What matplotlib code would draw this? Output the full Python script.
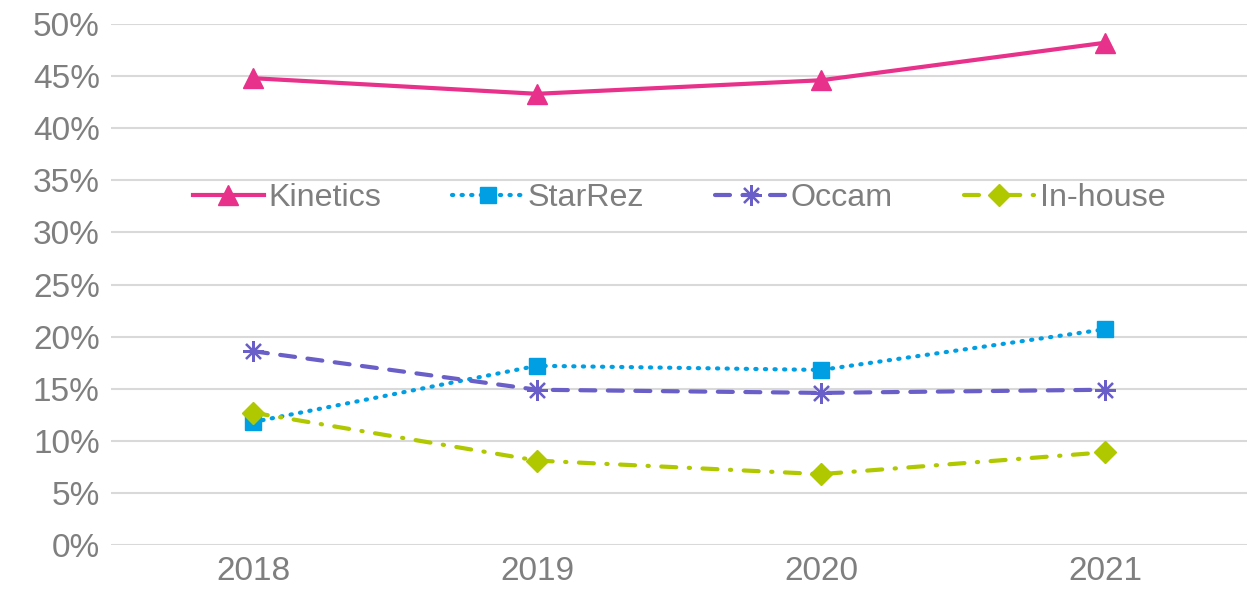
import matplotlib
matplotlib.use("Agg")
import matplotlib.pyplot as plt
from matplotlib.ticker import FuncFormatter

years = ["2018", "2019", "2020", "2021"]
kinetics = [44.8, 43.3, 44.6, 48.2]
starrez = [11.8, 17.2, 16.8, 20.7]
occam = [18.6, 14.9, 14.6, 14.9]
inhouse = [12.7, 8.1, 6.8, 8.9]

plt.rcParams["font.family"] = ["Liberation Sans", "DejaVu Sans"]
grey = "#7f7f7f"

fig = plt.figure(figsize=(12.55, 5.97), dpi=100)
ax = fig.add_axes([0.0884, 0.0871, 0.9052, 0.8727])

x = range(len(years))
lw = 3
ax.plot(x, kinetics, color="#E8318A", lw=lw, marker="^", ms=14, label="Kinetics")
ax.plot(x, starrez, color="#009FE3", lw=lw, ls=(0, (0.3, 2.0)), dash_capstyle="round",
        marker="s", ms=12, label="StarRez")
ax.plot(x, occam, color="#6A5FC8", lw=lw, ls=(0, (3.6, 3.0)), dash_capstyle="round",
        marker=(8, 2, 0), ms=15, mew=1.6, label="Occam")
ax.plot(x, inhouse, color="#B0C800", lw=lw, ls=(0, (3.6, 3.0, 0.3, 3.0)),
        dash_capstyle="round", marker="D", ms=11, label="In-house")

ax.set_xlim(-0.5, 3.5)
ax.set_ylim(0, 50)
ax.set_yticks(range(0, 51, 5))
ax.yaxis.set_major_formatter(FuncFormatter(lambda v, p: f"{v:.0f}%"))
ax.set_xticks(list(x))
ax.set_xticklabels(years)
ax.tick_params(length=0, labelsize=24, colors=grey, pad=8)
ax.grid(axis="y", color="#d9d9d9", lw=1.5)
ax.set_axisbelow(True)
for s in ax.spines.values():
    s.set_visible(False)

leg = ax.legend(loc="center", bbox_to_anchor=(0.5, 0.666), ncol=4, frameon=False,
                fontsize=23.2, handlelength=2.2, columnspacing=2.2, handletextpad=0.15)
for t in leg.get_texts():
    t.set_color(grey)

fig.savefig("out.png", dpi=100)
